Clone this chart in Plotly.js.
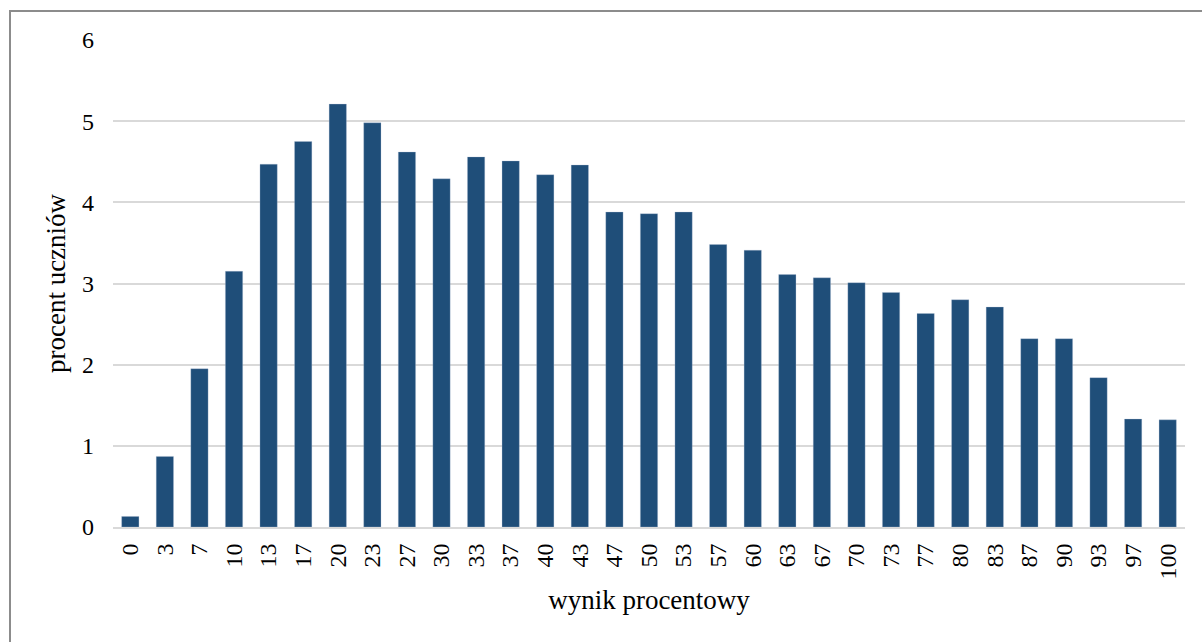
<!DOCTYPE html>
<html>
<head>
<meta charset="utf-8">
<script src="https://cdn.plot.ly/plotly-3.0.1.min.js"></script>
<style>
  html, body { margin: 0; padding: 0; background: #fff; overflow: hidden; }
  #wrap { position: relative; width: 1202px; height: 642px; }
  #chart { position: absolute; left: 0; top: 0; width: 1202px; height: 642px; }
  #frame { position: absolute; left: 9px; top: 10px; width: 1300px; height: 700px;
           border-left: 2px solid #8c8c8c; border-top: 2px solid #8c8c8c; pointer-events: none; }
</style>
</head>
<body>
<div id="wrap">
  <div id="chart"></div>
  <div id="frame"></div>
</div>
<script>
const categories = ["0","3","7","10","13","17","20","23","27","30","33","37","40","43","47","50","53","57","60","63","67","70","73","77","80","83","87","90","93","97","100"];
const percentStudents = [0.13,0.87,1.95,3.15,4.47,4.75,5.21,4.98,4.62,4.29,4.56,4.51,4.34,4.46,3.88,3.86,3.88,3.48,3.41,3.11,3.07,3.01,2.89,2.63,2.80,2.71,2.32,2.32,1.84,1.33,1.32];
const yTicks = [0,1,2,3,4,5,6];

const font = "Liberation Serif, Times New Roman, serif";

Plotly.newPlot('chart', [{
  type: 'bar',
  x: categories,
  y: percentStudents,
  marker: { color: '#1F4E79', line: { color: 'rgba(180,195,215,0.6)', width: 0.5 } },
  hoverinfo: 'x+y'
}], {
  width: 1202, height: 642,
  margin: { l: 113, r: 17, t: 40, b: 115 },
  paper_bgcolor: '#ffffff',
  plot_bgcolor: '#ffffff',
  bargap: 0.5,
  showlegend: false,
  font: { family: font, color: '#000000', size: 24 },
  xaxis: {
    type: 'category',
    tickangle: -90,
    tickfont: { family: font, size: 24, color: '#000' },
    ticks: '',
    ticklabelstandoff: 5,
    showgrid: false,
    showline: true,
    linecolor: '#d9d9d9',
    linewidth: 2,
    title: { text: 'wynik procentowy', font: { family: font, size: 27, color: '#000' }, standoff: 12 }
  },
  yaxis: {
    range: [0, 6],
    tickvals: yTicks,
    ticktext: yTicks.map(String),
    tickfont: { family: font, size: 24, color: '#000' },
    ticks: '',
    ticklabelstandoff: 18,
    showgrid: true,
    gridcolor: '#d9d9d9',
    gridwidth: 2,
    zeroline: false,
    showline: false,
    title: { text: 'procent uczniów', font: { family: font, size: 27, color: '#000' }, standoff: 8 }
  }
}, { displayModeBar: false, staticPlot: true });
</script>
</body>
</html>
